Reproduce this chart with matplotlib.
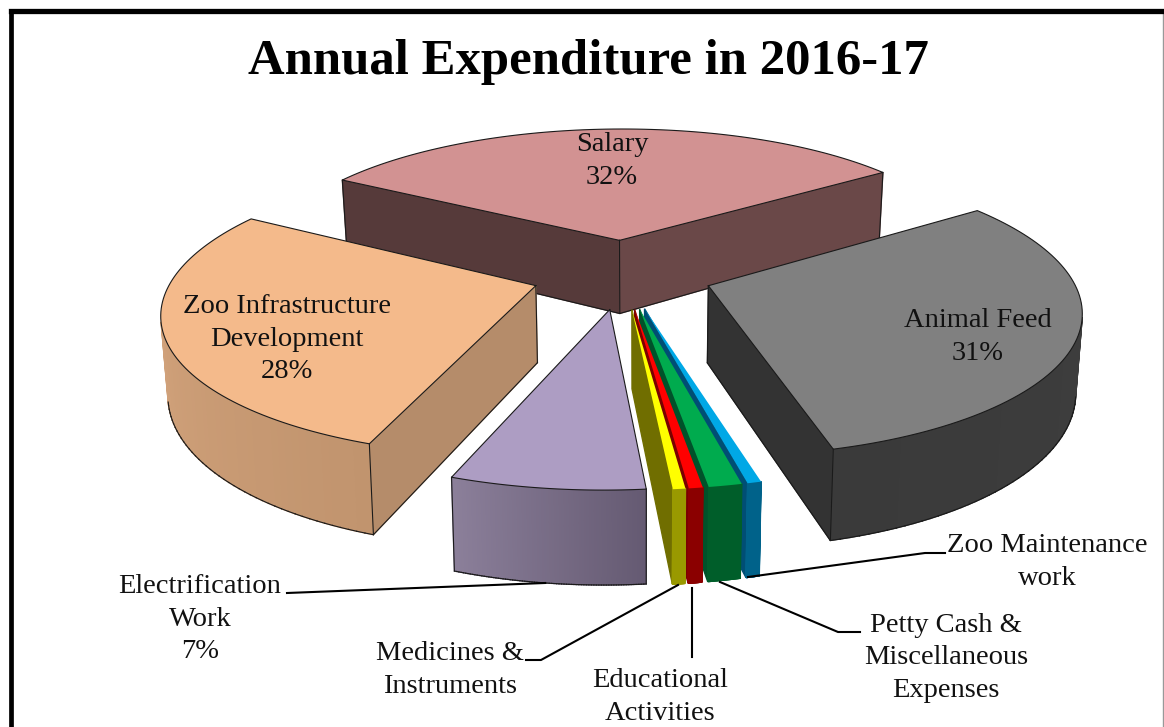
import numpy as np
import matplotlib
matplotlib.use("Agg")
import matplotlib.pyplot as plt
from matplotlib.colors import to_rgb

# slices clockwise, starting at Salary
categories = ["Salary", "Animal Feed", "Zoo Maintenance work",
              "Petty Cash & Miscellaneous Expenses", "Educational Activities",
              "Medicines & Instruments", "Electrification Work",
              "Zoo Infrastructure Development"]
values = [31.8, 30.6, 0.5, 1.2, 0.5, 0.45, 7.05, 27.9]

top_colors = ["#D29292", "#808080", "#00A8E6", "#00AB4E", "#FF0000", "#FFFF00", "#AD9DC3", "#F4BA8B"]
# outer side, colour at the two ends of the arc
side_colors = [("#6A4848", "#6A4848"), ("#404040", "#3A3A3A"), ("#00628A", "#00628A"), ("#005E2A", "#005E2A"),
               ("#8B0000", "#8B0000"), ("#999900", "#999900"), ("#655A72", "#8B7F9A"), ("#C1946E", "#DCAB83")]
# cut faces: first edge, second edge
cut_colors = [("#563A3A", "#6A4848"), ("#333333", "#333333"), ("#004E74", "#004E74"), ("#00522A", "#00522A"),
              ("#7A0000", "#7A0000"), ("#706E00", "#706E00"), ("#5F5569", "#5F5569"), ("#B58C6A", "#B58C6A")]
outlined = [True, True, False, False, False, False, True, True]

start_angle = 149.6
explode = 0.25
thick = 0.21
lean = 0.015

# camera
focal = 2270.0
depth0 = 6.27
cam_x = 640.5
off_x = -0.05
horizon = -597.0
cam_h = 2.405


def project(x, y, z=0.0):
    s = focal / (depth0 + y)
    return cam_x + (x + off_x) * s * (1 - lean * z / thick), horizon + (cam_h + z) * s


def area(px, py):
    return 0.5 * np.sum(px * np.roll(py, -1) - np.roll(px, -1) * py)


def mix(c0, c1, t):
    c0, c1 = np.array(to_rgb(c0)), np.array(to_rgb(c1))
    return tuple(c0 + (c1 - c0) * t)


def side(ax, ax_, ay_, bx, by, color):
    # ax_,ay_ and bx,by are the world points of the top edge
    x0, y0 = project(ax_, ay_)
    x1, y1 = project(bx, by)
    x2, y2 = project(bx, by, thick)
    x3, y3 = project(ax_, ay_, thick)
    px = np.array([x0, x1, x2, x3])
    py = np.array([y0, y1, y2, y3])
    if area(px, py) < 0:
        ax.fill(px, py, color=color, lw=1.0, zorder=order)
        return True
    return False


def draw_slice(ax, a0, a1, i):
    mid = np.radians((a0 + a1) / 2)
    tx, ty = explode * np.cos(mid), explode * np.sin(mid)
    t = np.radians(np.linspace(a0, a1, 80))
    xs = tx + np.cos(t)
    ys = ty + np.sin(t)
    edge = "#1A1A1A" if outlined[i] else "none"

    # cut faces
    vis0 = side(ax, tx, ty, xs[0], ys[0], cut_colors[i][0])
    vis1 = side(ax, xs[-1], ys[-1], tx, ty, cut_colors[i][1])
    # outer wall
    shown = []
    for k in range(len(t) - 1):
        c = mix(side_colors[i][0], side_colors[i][1], k / (len(t) - 2))
        shown.append(side(ax, xs[k], ys[k], xs[k + 1], ys[k + 1], c))
    # top
    px, py = project(np.r_[tx, xs], np.r_[ty, ys])
    ax.fill(px, py, color=top_colors[i], lw=0, zorder=order + 0.1)
    if outlined[i]:
        ax.plot(np.r_[px, px[0]], np.r_[py, py[0]], color=edge, lw=0.8, zorder=order + 0.2)
        bx, by = project(xs, ys, thick)
        for k in range(len(t) - 1):
            if shown[k]:
                ax.plot(bx[k:k + 2], by[k:k + 2], color=edge, lw=0.8, zorder=order + 0.2)
        corners = [(tx, ty), (xs[0], ys[0]), (xs[-1], ys[-1])]
        faces = [vis0 or vis1, vis0 or shown[0], vis1 or shown[-1]]
        for (cx, cy), on in zip(corners, faces):
            if on:
                x0, y0 = project(cx, cy)
                x1, y1 = project(cx, cy, thick)
                ax.plot([x0, x1], [y0, y1], color=edge, lw=0.8, zorder=order + 0.2)
        if vis0:
            x0, y0 = project(tx, ty, thick)
            x1, y1 = project(xs[0], ys[0], thick)
            ax.plot([x0, x1], [y0, y1], color=edge, lw=0.8, zorder=order + 0.2)
        if vis1:
            x0, y0 = project(tx, ty, thick)
            x1, y1 = project(xs[-1], ys[-1], thick)
            ax.plot([x0, x1], [y0, y1], color=edge, lw=0.8, zorder=order + 0.2)


fig = plt.figure(figsize=(11.64, 7.27), dpi=100)
ax = fig.add_axes([0, 0, 1, 1])
ax.set_xlim(0, 1164)
ax.set_ylim(727, 0)
ax.axis("off")

spans = np.array(values) / sum(values) * 360
ends = start_angle - np.cumsum(spans)
starts = np.r_[start_angle, ends[:-1]]

# back to front
draw_order = [0, 7, 1, 2, 3, 4, 5, 6]
for n, i in enumerate(draw_order):
    order = 2 + n
    draw_slice(ax, starts[i], ends[i], i)

# frame
ax.plot([1163, 1163], [10, 727], color="#999999", lw=1, zorder=1)
ax.plot([11, 11], [727, 10.5], color="black", lw=3.4, zorder=20, solid_joinstyle="round")
ax.plot([11, 1164], [10.5, 10.5], color="black", lw=3.8, zorder=20)

font = "Liberation Serif"
ax.text(588, 62, "Annual Expenditure in 2016-17", fontsize=36.5, fontweight="bold", family=font,
        ha="center", va="center", zorder=30)

labels = [("Salary\n32%", 612, 161), ("Animal Feed\n31%", 978, 337),
          ("Zoo Infrastructure\nDevelopment\n28%", 287, 339), ("Electrification\nWork\n7%", 200, 619),
          ("Medicines &\nInstruments", 450, 670), ("Educational\nActivities", 660, 697),
          ("Petty Cash &\nMiscellaneous\nExpenses", 946, 658), ("Zoo Maintenance\nwork", 1047, 562)]
for txt, x, y in labels:
    ax.text(x, y, txt, fontsize=20.5, family=font, ha="center", va="center", linespacing=1.42,
            color="#111111", zorder=30)

# leader lines
ax.plot([287, 545], [593, 583], color="black", lw=1.5, zorder=15)
ax.plot([526, 541, 678], [660, 660, 585], color="black", lw=1.5, zorder=15)
ax.plot([692, 692], [588, 657], color="black", lw=1.5, zorder=15)
ax.plot([720, 838, 860], [582, 632, 632], color="black", lw=1.5, zorder=15)
ax.plot([748, 925, 945], [577, 553, 553], color="black", lw=1.5, zorder=15)

plt.savefig("out.png", dpi=100)
plt.close()
